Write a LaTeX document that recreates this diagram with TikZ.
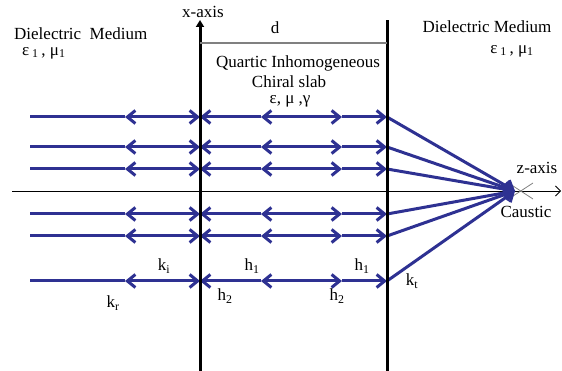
\documentclass[tikz,border=0pt]{standalone}
\usepackage{fontspec}
\setmainfont{Liberation Serif}
\usetikzlibrary{arrows.meta}
\definecolor{raycol}{RGB}{46,49,146}
\tikzset{
  ray/.style={raycol, line width=3pt},
  face/.style={black, line width=3pt},
  lbl/.style={font=\fontsize{17}{19}\selectfont, inner sep=0pt},
}
\begin{document}
\begin{tikzpicture}[x=1pt, y=-1pt, >={Straight Barb[length=8pt,width=13pt,line width=3pt 0 1]}]
    \useasboundingbox (0,0) rectangle (562,371);

    % z-axis
    \coordinate (zs) at (12,191);
    \coordinate (ze) at (561,191);
    \draw[line width=0.8pt, -{Straight Barb[length=5pt,width=10pt]}] (zs) -- (ze);
    \node[lbl] (zlab) at (537,168) {z-axis};

    % Caustic
    \coordinate (focus) at (515,191);
    \draw[gray, line width=0.8pt] (510,184) -- (533,199);
    \draw[gray, line width=0.8pt] (510,198) -- (533,183);
    \node[lbl] (caus) at (526,212) {Caustic};

    % Rays: incident, reflected, inside the slab and transmitted
    \foreach \y [count=\i] in {117,147,169,214,236,281} {
        \coordinate (a\i) at (30,\y);
        \coordinate (b\i) at (125,\y);
        \coordinate (c\i) at (200,\y);
        \coordinate (d\i) at (261,\y);
        \coordinate (e\i) at (300,\y);
        \coordinate (f\i) at (342,\y);
        \coordinate (g\i) at (387,\y);
        \draw[ray] (a\i) -- (b\i);
        \draw[ray, <->] (b\i) -- (c\i);
        \draw[ray, <-] (c\i) -- (d\i);
        \draw[ray, <-] (d\i) -- (e\i);
        \draw[ray, ->] (e\i) -- (f\i);
        \draw[ray, ->] (f\i) -- (g\i);
        \draw[ray, ->] (g\i) -- (focus);
    }

    % Slab faces
    \coordinate (lb) at (200,371);
    \coordinate (lt) at (200,20);
    \coordinate (rb) at (387,371);
    \coordinate (rt) at (387,20);
    \draw[face, -{Triangle[length=7pt,width=8pt]}] (lb) -- (lt);
    \draw[face] (rb) -- (rt);
    \node[lbl] (xlab) at (203,12) {x-axis};

    % Thickness d
    \coordinate (dl) at (200,43);
    \coordinate (dr) at (387,43);
    \draw[gray, line width=1.5pt] (dl) -- (dr);
    \node[lbl] (dlab) at (275,28) {d};

    % Slab text
    \node[lbl] (slab1) at (298,63) {Quartic Inhomogeneous};
    \node[lbl] (slab2) at (289,82) {Chiral slab};
    \node[lbl] (slab3) at (290,101) {ε, μ ,γ};

    % Outer media
    \node[lbl, anchor=west] (medl) at (14,34) {Dielectric\ \ Medium};
    \node[lbl, anchor=west] (epsl) at (22,53) {ε\,\textsubscript{1}\,, μ\textsubscript{1}};
    \node[lbl] (medr) at (487,27) {Dielectric Medium};
    \node[lbl] (epsr) at (512,51) {ε\,\textsubscript{1}\,, μ\textsubscript{1}};

    % Wave vectors
    \node[lbl] (ki) at (164,266) {k\textsubscript{i}};
    \node[lbl] (kr) at (113,303) {k\textsubscript{r}};
    \node[lbl] (h1a) at (252,266) {h\textsubscript{1}};
    \node[lbl] (h2a) at (225,296) {h\textsubscript{2}};
    \node[lbl] (h1b) at (362,266) {h\textsubscript{1}};
    \node[lbl] (h2b) at (337,296) {h\textsubscript{2}};
    \node[lbl] (kt) at (412,281) {k\textsubscript{t}};
\end{tikzpicture}
\end{document}
